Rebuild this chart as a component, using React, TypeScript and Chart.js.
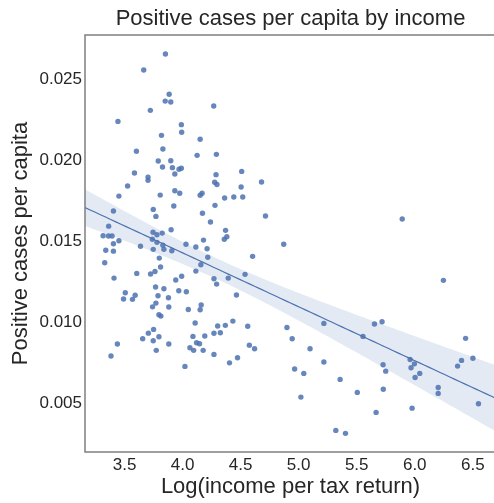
import React, { useEffect, useRef } from "react";
import { Chart, registerables } from "chart.js";

Chart.register(...registerables);

// Log(income per tax return) for each area
const incomeLog = [
  3.852, 3.665, 3.884, 3.850, 3.898, 3.722, 4.268, 3.443, 3.989, 3.992,
  3.818, 4.151, 3.602, 3.830, 4.125, 4.291, 3.790, 3.898, 3.827, 3.912,
  3.969, 3.989, 3.585, 3.933, 3.702, 4.288, 3.702, 4.276, 4.296, 3.526,
  3.933, 3.975, 3.807, 3.451, 4.168, 4.151, 4.279, 3.924, 3.747, 3.404,
  4.171, 3.770, 4.240, 3.363, 3.901, 3.745, 3.824, 3.779, 3.315, 3.361,
  3.392, 3.739, 3.779, 3.451, 3.404, 4.029, 3.637, 3.830, 4.180, 4.114,
  3.747, 3.839, 3.907, 3.338, 3.404, 4.211, 3.799, 4.217, 3.329, 4.157,
  3.810, 4.114, 3.762, 3.724, 3.605, 3.992, 3.409, 3.941, 4.270, 4.293,
  3.767, 3.839, 3.967, 4.032, 3.506, 3.591, 3.788, 3.878, 3.491, 3.568,
  3.770, 4.160, 3.741, 3.881, 4.049, 4.151, 3.796, 3.813, 4.108, 3.750,
  4.302, 3.705, 3.656, 3.796, 3.747, 3.438, 3.881, 4.089, 4.191, 4.270,
  4.063, 4.095, 4.120, 4.146, 3.773, 4.177, 3.383, 4.270, 4.020, 4.509,
  4.504, 4.680, 4.362, 4.441, 4.518, 4.714, 4.370, 4.359, 4.381, 4.871,
  4.603, 4.393, 4.538, 4.464, 4.433, 4.368, 4.561, 4.899, 5.217, 4.325,
  4.575, 4.620, 4.944, 5.098, 4.404, 4.473, 5.217, 4.965, 5.044, 5.357,
  5.505, 5.019, 5.320, 5.403, 5.892, 6.247, 5.653, 5.718, 5.554, 6.438,
  5.727, 5.750, 5.960, 5.997, 5.968, 6.043, 6.003, 5.729, 5.667, 5.977,
  6.202, 6.202, 6.369, 6.403, 6.501, 6.549,
];

// Positive cases per capita for the same areas
const casesPerCapita = [
  0.02654, 0.02555, 0.02406, 0.02364, 0.02358, 0.02307, 0.02334, 0.02239, 0.02219, 0.02172,
  0.02153, 0.02129, 0.02055, 0.02069, 0.0203, 0.02036, 0.01995, 0.01997, 0.01958, 0.01954,
  0.01944, 0.0195, 0.01921, 0.01915, 0.01896, 0.01911, 0.01876, 0.01864, 0.0185, 0.01841,
  0.01812, 0.01796, 0.01785, 0.01779, 0.01796, 0.01784, 0.01722, 0.01718, 0.01697, 0.01687,
  0.01673, 0.01654, 0.01619, 0.01594, 0.01572, 0.01556, 0.01551, 0.01541, 0.01535, 0.01533,
  0.01533, 0.01513, 0.01494, 0.01504, 0.01485, 0.01482, 0.0147, 0.01476, 0.01508, 0.01465,
  0.01451, 0.01451, 0.01442, 0.01445, 0.0144, 0.01455, 0.01397, 0.01402, 0.01368, 0.01356,
  0.01342, 0.01317, 0.01315, 0.01299, 0.01303, 0.01285, 0.01274, 0.01262, 0.0127, 0.01237,
  0.01219, 0.01208, 0.01196, 0.0119, 0.01184, 0.01168, 0.01165, 0.01153, 0.01145, 0.01143,
  0.0112, 0.01108, 0.01097, 0.01096, 0.01081, 0.01079, 0.01048, 0.0104, 0.00997, 0.00958,
  0.00979, 0.00935, 0.009, 0.00913, 0.00888, 0.00868, 0.00868, 0.00915, 0.00917, 0.00934,
  0.00845, 0.00829, 0.00876, 0.0087, 0.00829, 0.00829, 0.00794, 0.00804, 0.0073, 0.01931,
  0.01835, 0.01866, 0.01767, 0.01773, 0.01773, 0.01656, 0.01568, 0.01513, 0.01529, 0.01482,
  0.01408, 0.01274, 0.01297, 0.0117, 0.01009, 0.00983, 0.00977, 0.0097, 0.00995, 0.00937,
  0.00861, 0.00839, 0.009, 0.00839, 0.00752, 0.00783, 0.00757, 0.00714, 0.00687, 0.0065,
  0.0057, 0.00541, 0.00336, 0.00318, 0.01638, 0.0126, 0.00991, 0.01005, 0.00915, 0.00903,
  0.0074, 0.00701, 0.00773, 0.00746, 0.00722, 0.00687, 0.00662, 0.00589, 0.00447, 0.00473,
  0.006, 0.00564, 0.00732, 0.00767, 0.0078, 0.005,
];

const xTicks = [3.5, 4.0, 4.5, 5.0, 5.5, 6.0, 6.5];
const yTicks = [0.005, 0.01, 0.015, 0.02, 0.025];
const xLimits = [3.159, 6.7];
const yLimits = [0.00203, 0.02771];

const BLUE = "76, 114, 176";
const TEXT = "#262626";
const FONT = "'Liberation Sans', Arial, Helvetica, sans-serif";

// Ordinary least squares fit with a 95% confidence band for the mean
function linearFit(xs: number[], ys: number[], lo: number, hi: number, steps: number) {
  const n = xs.length;
  const mx = xs.reduce((a, b) => a + b, 0) / n;
  const my = ys.reduce((a, b) => a + b, 0) / n;
  let sxx = 0;
  let sxy = 0;
  for (let i = 0; i < n; i++) {
    sxx += (xs[i] - mx) ** 2;
    sxy += (xs[i] - mx) * (ys[i] - my);
  }
  const slope = sxy / sxx;
  const intercept = my - slope * mx;
  let sse = 0;
  for (let i = 0; i < n; i++) sse += (ys[i] - (intercept + slope * xs[i])) ** 2;
  const s = Math.sqrt(sse / (n - 2));
  const t = 1.974;
  const line: { x: number; y: number }[] = [];
  const upper: { x: number; y: number }[] = [];
  const lower: { x: number; y: number }[] = [];
  for (let k = 0; k <= steps; k++) {
    const x = lo + ((hi - lo) * k) / steps;
    const yHat = intercept + slope * x;
    const half = t * s * Math.sqrt(1 / n + (x - mx) ** 2 / sxx);
    line.push({ x, y: yHat });
    upper.push({ x, y: yHat + half });
    lower.push({ x, y: yHat - half });
  }
  return { line, upper, lower };
}

// Axis frame drawn on all four sides of the plot area
const framePlugin = {
  id: "axesFrame",
  afterDatasetsDraw(chart: any) {
    const { ctx, chartArea } = chart;
    const { left, right, top, bottom } = chartArea;
    ctx.save();
    ctx.strokeStyle = "#7f7f7f";
    ctx.lineWidth = 1.5;
    ctx.strokeRect(left, top, right - left, bottom - top);
    ctx.restore();
  },
};

export default function App() {
  const canvasRef = useRef<HTMLCanvasElement | null>(null);

  useEffect(() => {
    if (!canvasRef.current) return;
    const fit = linearFit(incomeLog, casesPerCapita, xLimits[0], xLimits[1], 80);
    const points = incomeLog.map((x, i) => ({ x, y: casesPerCapita[i] }));

    const chart = new Chart(canvasRef.current, {
      type: "scatter",
      data: {
        datasets: [
          {
            data: fit.line,
            showLine: true,
            borderColor: `rgb(${BLUE})`,
            borderWidth: 1.2,
            pointRadius: 0,
            fill: false,
          },
          {
            data: fit.upper,
            showLine: true,
            borderWidth: 0,
            borderColor: "rgba(0,0,0,0)",
            backgroundColor: `rgba(${BLUE}, 0.15)`,
            pointRadius: 0,
            fill: "+1",
          },
          {
            data: fit.lower,
            showLine: true,
            borderWidth: 0,
            borderColor: "rgba(0,0,0,0)",
            pointRadius: 0,
            fill: false,
          },
          {
            data: points,
            pointRadius: 2.7,
            pointBorderWidth: 0,
            pointBackgroundColor: `rgba(${BLUE}, 0.85)`,
          },
        ],
      },
      options: {
        animation: false,
        responsive: true,
        maintainAspectRatio: false,
        layout: { padding: { left: 0, right: 0, top: 0, bottom: 0 } },
        plugins: {
          legend: { display: false },
          tooltip: { enabled: false },
          title: {
            display: true,
            text: "Positive cases per capita by income",
            color: TEXT,
            fullSize: false,
            font: { family: FONT, size: 22, weight: "normal" },
            padding: { top: 6, bottom: 2.6 },
          },
        },
        scales: {
          x: {
            type: "linear",
            min: xLimits[0],
            max: xLimits[1],
            grid: { display: false, drawTicks: false },
            border: { display: false },
            afterBuildTicks: (scale: any) => {
              scale.ticks = xTicks.map((v) => ({ value: v }));
            },
            afterFit: (scale: any) => {
              scale.height = 51;
            },
            ticks: {
              color: TEXT,
              padding: 3,
              font: { family: FONT, size: 17 },
              callback: (v: any) => Number(v).toFixed(1),
            },
            title: {
              display: true,
              text: "Log(income per tax return)",
              color: TEXT,
              font: { family: FONT, size: 22 },
              padding: { top: 0, bottom: 3 },
            },
          },
          y: {
            type: "linear",
            min: yLimits[0],
            max: yLimits[1],
            grid: { display: false, drawTicks: false },
            border: { display: false },
            afterBuildTicks: (scale: any) => {
              scale.ticks = yTicks.map((v) => ({ value: v }));
            },
            afterFit: (scale: any) => {
              scale.width = 85;
            },
            ticks: {
              color: TEXT,
              padding: 3,
              font: { family: FONT, size: 17 },
              callback: (v: any) => Number(v).toFixed(3),
            },
            title: {
              display: true,
              text: "Positive cases per capita",
              color: TEXT,
              font: { family: FONT, size: 22 },
              padding: { top: 8, bottom: 0 },
            },
          },
        },
      },
      plugins: [framePlugin],
    } as any);

    return () => chart.destroy();
  }, []);

  return (
    <div
      style={{
        position: "absolute",
        left: 0,
        top: 0,
        width: 494,
        height: 503,
        overflow: "hidden",
        background: "#ffffff",
      }}
    >
      <div style={{ position: "relative", width: 500, height: 503 }}>
        <canvas ref={canvasRef} />
      </div>
    </div>
  );
}
